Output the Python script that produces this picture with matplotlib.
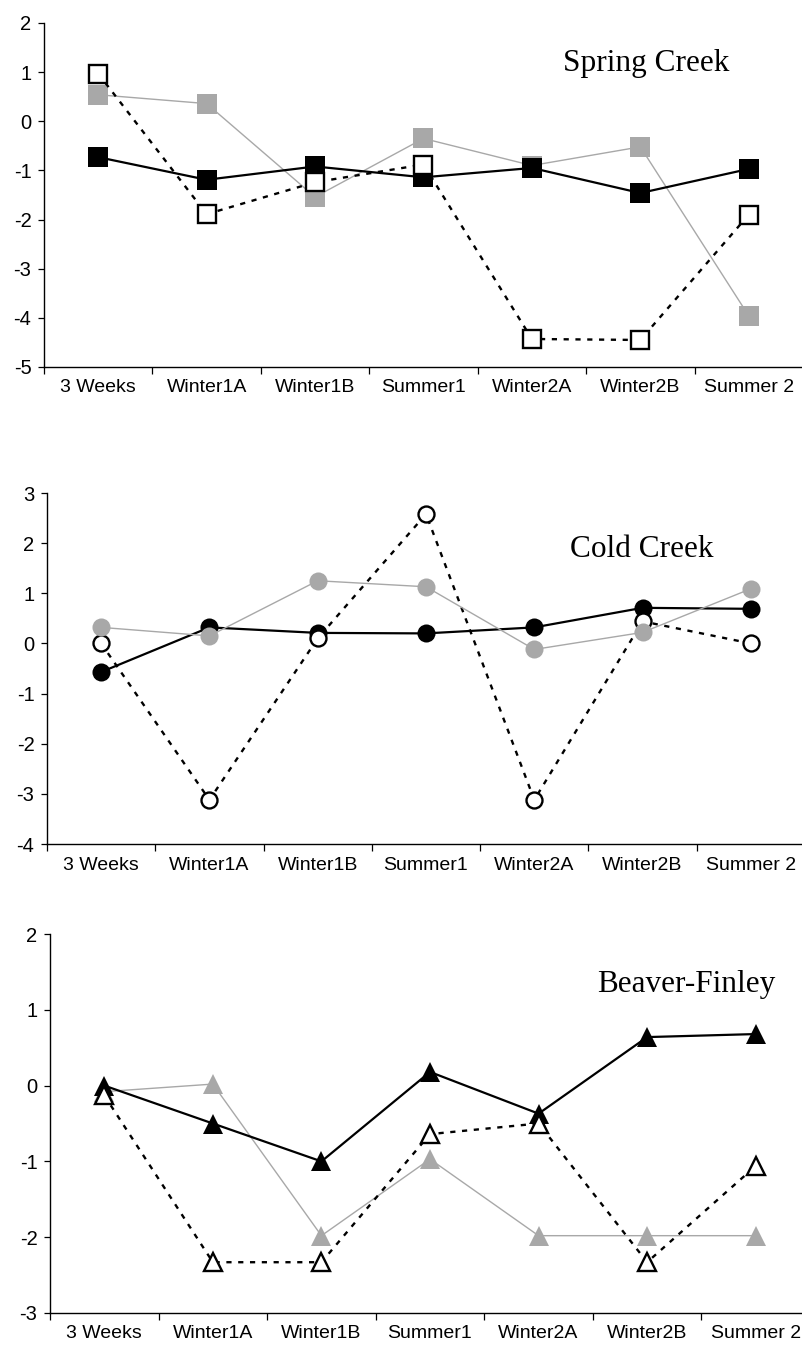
import matplotlib
matplotlib.use("Agg")
import matplotlib.pyplot as plt

plt.rcParams["axes.unicode_minus"] = False

categories = ["3 Weeks", "Winter1A", "Winter1B", "Summer1", "Winter2A", "Winter2B", "Summer 2"]

spring_black = [-0.73, -1.19, -0.92, -1.14, -0.95, -1.46, -0.97]
spring_open = [0.97, -1.89, -1.24, -0.88, -4.43, -4.45, -1.90]
spring_gray = [0.54, 0.36, -1.54, -0.35, -0.90, -0.52, -3.96]

cold_black = [-0.57, 0.32, 0.21, 0.20, 0.32, 0.71, 0.69]
cold_open = [0.0, -3.12, 0.10, 2.58, -3.12, 0.44, 0.0]
cold_gray = [0.32, 0.15, 1.25, 1.13, -0.12, 0.22, 1.09]

beaver_black = [0.0, -0.50, -1.0, 0.18, -0.37, 0.64, 0.68]
beaver_open = [-0.13, -2.33, -2.33, -0.64, -0.50, -2.33, -1.06]
beaver_gray = [-0.08, 0.02, -1.98, -0.97, -1.98, -1.98, -1.98]

titles = ["Spring Creek", "Cold Creek", "Beaver-Finley"]
ylims = [(-5, 2), (-4, 3), (-3, 2)]

W, H = 803, 1358
fig = plt.figure(figsize=(W / 100, H / 100), dpi=100)

# axes boxes in pixels: left, top, right, bottom
boxes = [(44, 23, 803, 367), (47, 493, 805, 844), (50, 934, 810, 1313)]
title_pos = [(563, 71), (570, 557), (597, 992)]
markers = ["s", "o", "^"]
msizes = [14, 13, 14]
# zorders: (gray, black, open)
zorders = [(2, 3, 4), (4, 2, 3), (2, 3, 4)]

data = [
    (spring_black, spring_open, spring_gray),
    (cold_black, cold_open, cold_gray),
    (beaver_black, beaver_open, beaver_gray),
]

GRAY = "#a8a8a8"
x = [i + 0.5 for i in range(len(categories))]

for k in range(3):
    l, t, r, b = boxes[k]
    ax = fig.add_axes([l / W, 1 - b / H, (r - l) / W, (b - t) / H])
    blk, opn, gry = data[k]
    m = markers[k]
    ms = msizes[k]
    zg, zb, zo = zorders[k]
    ax.plot(x, gry, color=GRAY, lw=1.0, marker=m, ms=ms, mfc=GRAY, mec=GRAY,
            mew=0, zorder=zg, clip_on=False)
    ax.plot(x, blk, color="black", lw=1.6, marker=m, ms=ms, mfc="black",
            mec="black", mew=0, zorder=zb, clip_on=False)
    ax.plot(x, opn, color="black", lw=1.7, linestyle=(0, (2.2, 2.8)), marker=m,
            ms=ms - 1.5, mfc="white", mec="black", mew=1.7, zorder=zo, clip_on=False)

    ax.set_xlim(0, 7)
    ax.set_ylim(*ylims[k])
    ax.set_yticks(range(ylims[k][0], ylims[k][1] + 1))
    ax.set_xticks(range(0, 8))
    ax.set_xticklabels([])
    ax.set_xticks(x, minor=True)
    ax.set_xticklabels(categories, minor=True)
    ax.tick_params(axis="x", which="minor", length=0, pad=9, labelsize=14)
    ax.tick_params(axis="x", which="major", length=5, width=0.9, direction="out")
    ax.tick_params(axis="y", length=4, width=0.9, direction="out", pad=5, labelsize=14.5)
    for lab in ax.get_xticklabels(minor=True) + ax.get_yticklabels():
        lab.set_fontfamily("Liberation Sans")
    ax.spines["top"].set_visible(False)
    ax.spines["right"].set_visible(False)
    ax.spines["left"].set_linewidth(1.0)
    ax.spines["bottom"].set_linewidth(1.0)
    ax.patch.set_alpha(0)

    tx, ty = title_pos[k]
    fig.text(tx / W, 1 - ty / H, titles[k], fontfamily="Liberation Serif",
             fontsize=22.5, ha="left", va="baseline")

fig.savefig("out.png", dpi=100)
